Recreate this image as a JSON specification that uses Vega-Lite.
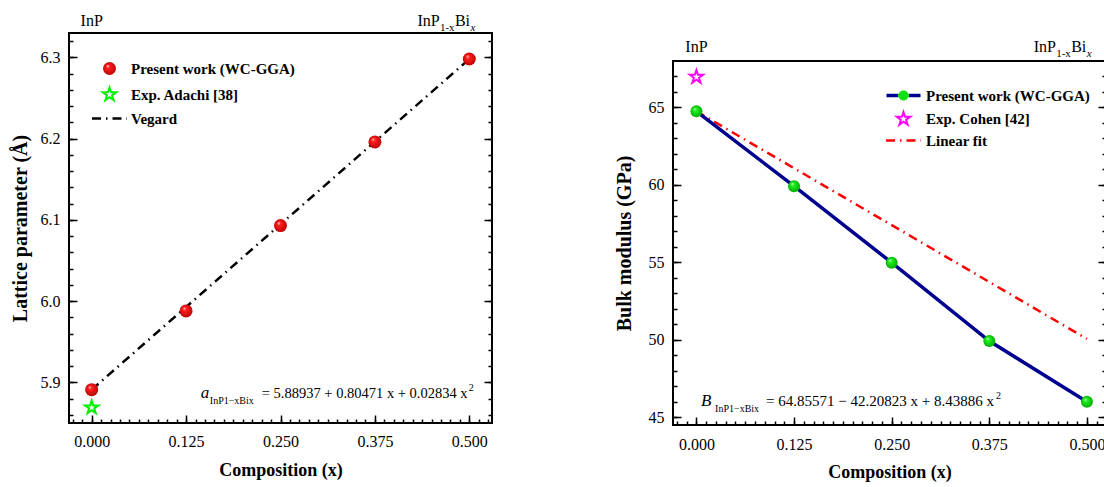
{
  "$schema": "https://vega.github.io/schema/vega-lite/v6.json",
  "background": "white",
  "padding": {"left": 9, "top": 11, "right": 0, "bottom": 0},
  "spacing": 119,
  "resolve": {"scale": {"color": "independent"}},
  "config": {
    "font": "Liberation Serif",
    "view": {"stroke": "black", "strokeWidth": 2},
    "axis": {"zindex": 1, "ticks": true, "tickOpacity": 1, "domain": false, "grid": false, "tickColor": "black", "tickWidth": 1.5, "labelColor": "black", "labelFont": "Liberation Serif", "labelFontSize": 16, "titleFont": "Liberation Serif", "titleFontWeight": "bold", "titleColor": "black"},
    "legend": {"title": null, "padding": 0, "labelFont": "Liberation Serif", "labelFontSize": 15, "labelFontWeight": "bold", "labelColor": "black", "labelLimit": 400, "symbolSize": 196, "symbolStrokeWidth": 0},
    "text": {"font": "Liberation Serif", "color": "black"}
  },
  "datasets": {
    "lat": [{"x": 0, "y": 5.891}, {"x": 0.125, "y": 5.988}, {"x": 0.25, "y": 6.093}, {"x": 0.375, "y": 6.196}, {"x": 0.5, "y": 6.298}],
    "lat_exp": [{"x": 0, "y": 5.869}],
    "vegard": [{"x": 0, "y": 5.891, "series": "Vegard"}, {"x": 0.5, "y": 6.298, "series": "Vegard"}],
    "bulk": [{"x": 0, "y": 64.75}, {"x": 0.125, "y": 59.92}, {"x": 0.25, "y": 54.98}, {"x": 0.375, "y": 49.92}, {"x": 0.5, "y": 46.0}],
    "bulk_exp": [{"x": 0, "y": 66.97}],
    "fit": [{"x": 0, "y": 64.75, "series": "Linear fit"}, {"x": 0.5, "y": 50.06, "series": "Linear fit"}]
  },
  "hconcat": [
    {
      "width": 423,
      "height": 390,
      "resolve": {"axis": {"x": "independent", "y": "independent"}},
      "layer": [
        {
          "data": {"name": "vegard"},
          "mark": {"type": "line", "strokeDash": [9, 5, 1.5, 5], "strokeWidth": 2.5},
          "encoding": {
            "x": {"field": "x", "type": "quantitative", "scale": {"domain": [-0.03, 0.53], "nice": false, "zero": false},
              "axis": {"orient": "bottom", "values": [0, 0.125, 0.25, 0.375, 0.5], "format": ".3f", "tickSize": -8,
                "labelPadding": 18, "labelOverlap": false, "title": "Composition (x)", "titleFontSize": 18, "titlePadding": 12}},
            "y": {"field": "y", "type": "quantitative", "scale": {"domain": [5.85, 6.33], "nice": false, "zero": false},
              "axis": {"orient": "left", "values": [5.9, 6.0, 6.1, 6.2, 6.3], "format": ".1f", "tickSize": -8,
                "labelPadding": 17, "labelOverlap": false, "title": "Lattice parameter (Å)", "titleFontSize": 20, "titlePadding": 10}},
            "color": {"field": "series", "type": "nominal",
              "scale": {"domain": ["Present work (WC-GGA)", "Exp. Adachi [38]", "Vegard"], "range": ["#ff0000", "#00ee00", "#000000"]},
              "legend": {"orient": "none", "legendX": 33, "legendY": 28, "labelOffset": 14, "rowPadding": 6,
                "encode": {"symbols": {"update": {
                  "shape": {"signal": "datum.value === 'Vegard' ? 'M-2.5,0L2.5,0' : datum.value === 'Exp. Adachi [38]' ? 'M0,-1L0.2245,-0.309L0.951,-0.309L0.363,0.118L0.588,0.809L0,0.382L-0.588,0.809L-0.363,0.118L-0.951,-0.309L-0.2245,-0.309Z' : 'circle'"},
                  "size": {"signal": "datum.value === 'Present work (WC-GGA)' ? 169 : 196"},
                  "fill": {"signal": "datum.value === 'Vegard' ? 'transparent' : datum.value === 'Exp. Adachi [38]' ? 'white' : {gradient: 'radial', x1: 0.35, y1: 0.3, r1: 0, x2: 0.5, y2: 0.5, r2: 0.55, stops: [{offset: 0, color: '#ffe0e0'}, {offset: 0.25, color: '#ff2020'}, {offset: 1, color: '#b80000'}]}"},
                  "stroke": {"signal": "datum.value === 'Vegard' ? 'black' : datum.value === 'Exp. Adachi [38]' ? '#00ee00' : 'transparent'"},
                  "strokeWidth": {"signal": "datum.value === 'Vegard' ? 2.5 : datum.value === 'Exp. Adachi [38]' ? 2 : 0"},
                  "strokeDash": {"signal": "datum.value === 'Vegard' ? [9,5,1.5,5] : [1,0]"},
                  "opacity": {"value": 1}
                }}}}}
          }
        },
        {
          "data": {"name": "lat"},
          "mark": {"type": "point", "filled": true, "size": 169, "opacity": 1, "shape": "circle",
            "color": {"gradient": "radial", "x1": 0.35, "y1": 0.3, "r1": 0, "x2": 0.5, "y2": 0.5, "r2": 0.55, "stops": [{"offset": 0, "color": "#ffe0e0"}, {"offset": 0.25, "color": "#ff2020"}, {"offset": 1, "color": "#b80000"}]}},
          "encoding": {
            "x": {"field": "x", "type": "quantitative",
              "axis": {"orient": "bottom", "values": [-0.025,-0.0125,0,0.0125,0.025,0.0375,0.05,0.0625,0.075,0.0875,0.1,0.1125,0.125,0.1375,0.15,0.1625,0.175,0.1875,0.2,0.2125,0.225,0.2375,0.25,0.2625,0.275,0.2875,0.3,0.3125,0.325,0.3375,0.35,0.3625,0.375,0.3875,0.4,0.4125,0.425,0.4375,0.45,0.4625,0.475,0.4875,0.5,0.5125,0.525],
                "labels": false, "tickSize": -4, "title": null}},
            "y": {"field": "y", "type": "quantitative",
              "axis": {"orient": "left", "values": [5.86,5.88,5.9,5.92,5.94,5.96,5.98,6.0,6.02,6.04,6.06,6.08,6.1,6.12,6.14,6.16,6.18,6.2,6.22,6.24,6.26,6.28,6.3,6.32],
                "labels": false, "tickSize": -4, "title": null}}
          }
        },
        {
          "data": {"name": "lat_exp"},
          "mark": {"type": "point", "filled": false, "size": 196, "opacity": 1, "fill": "white", "stroke": "#00ee00", "strokeWidth": 2,
            "shape": "M0,-1L0.2245,-0.309L0.951,-0.309L0.363,0.118L0.588,0.809L0,0.382L-0.588,0.809L-0.363,0.118L-0.951,-0.309L-0.2245,-0.309Z"},
          "encoding": {
            "x": {"field": "x", "type": "quantitative", "axis": null},
            "y": {"field": "y", "type": "quantitative",
              "axis": {"orient": "right", "values": [5.9, 6.0, 6.1, 6.2, 6.3], "labels": false, "tickSize": -8, "title": null}}
          }
        },
        {
          "data": {"values": [{}]},
          "mark": {"type": "text", "text": "InP", "fontSize": 16, "align": "center", "baseline": "alphabetic"},
          "encoding": {"x": {"datum": 0, "type": "quantitative", "axis": null},
            "y": {"datum": 6.339, "type": "quantitative",
              "axis": {"orient": "right", "values": [5.86,5.88,5.9,5.92,5.94,5.96,5.98,6.0,6.02,6.04,6.06,6.08,6.1,6.12,6.14,6.16,6.18,6.2,6.22,6.24,6.26,6.28,6.3,6.32],
                "labels": false, "tickSize": -4, "title": null}}}
        },
        {
          "data": {"values": [{}]},
          "mark": {"type": "text", "text": "InP", "fontSize": 16, "align": "left", "baseline": "alphabetic"},
          "encoding": {"x": {"datum": 0.4313, "type": "quantitative", "axis": null}, "y": {"datum": 6.339, "type": "quantitative", "axis": null}}
        },
        {
          "data": {"values": [{}]},
          "mark": {"type": "text", "text": "1-x", "fontSize": 11, "align": "left", "baseline": "alphabetic", "dx": 22.5, "dy": 5},
          "encoding": {"x": {"datum": 0.4313, "type": "quantitative", "axis": null}, "y": {"datum": 6.339, "type": "quantitative", "axis": null}}
        },
        {
          "data": {"values": [{}]},
          "mark": {"type": "text", "text": "Bi", "fontSize": 16, "align": "left", "baseline": "alphabetic", "dx": 37.5},
          "encoding": {"x": {"datum": 0.4313, "type": "quantitative", "axis": null}, "y": {"datum": 6.339, "type": "quantitative", "axis": null}}
        },
        {
          "data": {"values": [{}]},
          "mark": {"type": "text", "text": "x", "fontSize": 11, "fontStyle": "italic", "align": "left", "baseline": "alphabetic", "dx": 53, "dy": 5},
          "encoding": {"x": {"datum": 0.4313, "type": "quantitative", "axis": null}, "y": {"datum": 6.339, "type": "quantitative", "axis": null}}
        },
        {
          "data": {"values": [{}]},
          "mark": {"type": "text", "text": "a", "fontSize": 17, "fontStyle": "italic", "align": "left", "baseline": "alphabetic"},
          "encoding": {"x": {"datum": 0.1445, "type": "quantitative", "axis": null}, "y": {"datum": 5.8809, "type": "quantitative", "axis": null}}
        },
        {
          "data": {"values": [{}]},
          "mark": {"type": "text", "text": "InP1−xBix", "fontSize": 10, "align": "left", "baseline": "alphabetic", "dx": 9, "dy": 6},
          "encoding": {"x": {"datum": 0.1445, "type": "quantitative", "axis": null}, "y": {"datum": 5.8809, "type": "quantitative", "axis": null}}
        },
        {
          "data": {"values": [{}]},
          "mark": {"type": "text", "text": "= 5.88937 + 0.80471 x + 0.02834 x", "fontSize": 14.5, "align": "left", "baseline": "alphabetic", "dx": 61},
          "encoding": {"x": {"datum": 0.1445, "type": "quantitative", "axis": null}, "y": {"datum": 5.8809, "type": "quantitative", "axis": null}}
        },
        {
          "data": {"values": [{}]},
          "mark": {"type": "text", "text": "2", "fontSize": 10, "align": "left", "baseline": "alphabetic", "dx": 268, "dy": -7},
          "encoding": {"x": {"datum": 0.1445, "type": "quantitative", "axis": null}, "y": {"datum": 5.8809, "type": "quantitative", "axis": null}}
        }
      ]
    },
    {
      "spacing": 0,
      "resolve": {"scale": {"color": "independent"}, "legend": {"color": "independent"}},
      "vconcat": [
        {
          "width": 433,
          "height": 5,
          "view": {"stroke": null, "fill": null},
          "data": {"values": []},
          "mark": {"type": "point", "opacity": 0},
          "encoding": {}
        },
        {
          "width": 433,
          "height": 364,
          "resolve": {"axis": {"x": "independent", "y": "independent"}},
          "layer": [
            {
              "data": {"name": "fit"},
              "mark": {"type": "line", "strokeDash": [9, 5, 1.5, 5], "strokeWidth": 2.5},
              "encoding": {
                "x": {"field": "x", "type": "quantitative", "scale": {"domain": [-0.03, 0.5244], "nice": false, "zero": false},
                  "axis": {"orient": "bottom", "values": [0, 0.125, 0.25, 0.375, 0.5], "format": ".3f", "tickSize": -8,
                    "labelPadding": 19, "labelOverlap": false, "title": "Composition (x)", "titleFontSize": 18, "titlePadding": 11}},
                "y": {"field": "y", "type": "quantitative", "scale": {"domain": [44.5, 68], "nice": false, "zero": false},
                  "axis": {"orient": "left", "values": [45, 50, 55, 60, 65], "format": "d", "tickSize": -8,
                    "labelPadding": 17, "labelOverlap": false, "title": "Bulk modulus (GPa)", "titleFontSize": 20, "titlePadding": 14}},
                "color": {"field": "series", "type": "nominal",
                  "scale": {"domain": ["Present work (WC-GGA)", "Exp. Cohen [42]", "Linear fit"], "range": ["#000090", "#ff00ff", "#ff0000"]},
                  "legend": {"orient": "none", "legendX": 223, "legendY": 27, "labelOffset": 15, "rowPadding": 3.5,
                    "encode": {"symbols": {"update": {
                      "shape": {"signal": "datum.value === 'Linear fit' ? 'M-2.5,0L2.5,0' : datum.value === 'Exp. Cohen [42]' ? 'M0,-1L0.2245,-0.309L0.951,-0.309L0.363,0.118L0.588,0.809L0,0.382L-0.588,0.809L-0.363,0.118L-0.951,-0.309L-0.2245,-0.309Z' : 'M-2.43,-0.243L2.43,-0.243L2.43,0.243L-2.43,0.243Z M0.714,0 A0.714,0.714 0 1 1 -0.714,0 A0.714,0.714 0 1 1 0.714,0 Z'"},
                      "size": {"value": 196},
                      "fill": {"signal": "datum.value === 'Linear fit' ? 'transparent' : datum.value === 'Exp. Cohen [42]' ? 'white' : {gradient: 'linear', x1: 0, y1: 0, x2: 1, y2: 0, stops: [{offset: 0, color: '#000090'}, {offset: 0.35, color: '#000090'}, {offset: 0.353, color: '#10e010'}, {offset: 0.647, color: '#10e010'}, {offset: 0.65, color: '#000090'}, {offset: 1, color: '#000090'}]}"},
                      "stroke": {"signal": "datum.value === 'Linear fit' ? '#ff0000' : datum.value === 'Exp. Cohen [42]' ? '#ff00ff' : 'transparent'"},
                      "strokeWidth": {"signal": "datum.value === 'Linear fit' ? 2.5 : datum.value === 'Exp. Cohen [42]' ? 2 : 0"},
                      "strokeDash": {"signal": "datum.value === 'Linear fit' ? [9,5,1.5,5] : [1,0]"},
                      "opacity": {"value": 1}
                    }}}}}
              }
            },
            {
              "data": {"name": "bulk"},
              "mark": {"type": "line", "color": "#000090", "strokeWidth": 3.5},
              "encoding": {
                "x": {"field": "x", "type": "quantitative",
                  "axis": {"orient": "bottom", "values": [-0.025,-0.0125,0,0.0125,0.025,0.0375,0.05,0.0625,0.075,0.0875,0.1,0.1125,0.125,0.1375,0.15,0.1625,0.175,0.1875,0.2,0.2125,0.225,0.2375,0.25,0.2625,0.275,0.2875,0.3,0.3125,0.325,0.3375,0.35,0.3625,0.375,0.3875,0.4,0.4125,0.425,0.4375,0.45,0.4625,0.475,0.4875,0.5,0.5125],
                    "labels": false, "tickSize": -4, "title": null}},
                "y": {"field": "y", "type": "quantitative",
                  "axis": {"orient": "left", "values": [45,46,47,48,49,50,51,52,53,54,55,56,57,58,59,60,61,62,63,64,65,66,67],
                    "labels": false, "tickSize": -4, "title": null}}
              }
            },
            {
              "data": {"name": "bulk"},
              "mark": {"type": "point", "filled": true, "size": 144, "opacity": 1, "shape": "circle",
                "color": {"gradient": "radial", "x1": 0.35, "y1": 0.3, "r1": 0, "x2": 0.5, "y2": 0.5, "r2": 0.55, "stops": [{"offset": 0, "color": "#e0ffe0"}, {"offset": 0.25, "color": "#20f020"}, {"offset": 1, "color": "#00a800"}]}},
              "encoding": {
                "x": {"field": "x", "type": "quantitative", "axis": null},
                "y": {"field": "y", "type": "quantitative",
                  "axis": {"orient": "right", "values": [45, 50, 55, 60, 65], "labels": false, "tickSize": -8, "title": null}}
              }
            },
            {
              "data": {"name": "bulk_exp"},
              "mark": {"type": "point", "filled": false, "size": 196, "opacity": 1, "fill": "white", "stroke": "#ff00ff", "strokeWidth": 2,
                "shape": "M0,-1L0.2245,-0.309L0.951,-0.309L0.363,0.118L0.588,0.809L0,0.382L-0.588,0.809L-0.363,0.118L-0.951,-0.309L-0.2245,-0.309Z"},
              "encoding": {
                "x": {"field": "x", "type": "quantitative", "axis": null},
                "y": {"field": "y", "type": "quantitative",
                  "axis": {"orient": "right", "values": [45,46,47,48,49,50,51,52,53,54,55,56,57,58,59,60,61,62,63,64,65,66,67],
                    "labels": false, "tickSize": -4, "title": null}}
              }
            },
            {
              "data": {"values": [{}]},
              "mark": {"type": "text", "text": "InP", "fontSize": 16, "align": "center", "baseline": "alphabetic"},
              "encoding": {"x": {"datum": 0, "type": "quantitative", "axis": null}, "y": {"datum": 68.57, "type": "quantitative", "axis": null}}
            },
            {
              "data": {"values": [{}]},
              "mark": {"type": "text", "text": "InP", "fontSize": 16, "align": "left", "baseline": "alphabetic"},
              "encoding": {"x": {"datum": 0.4318, "type": "quantitative", "axis": null}, "y": {"datum": 68.57, "type": "quantitative", "axis": null}}
            },
            {
              "data": {"values": [{}]},
              "mark": {"type": "text", "text": "1-x", "fontSize": 11, "align": "left", "baseline": "alphabetic", "dx": 22.5, "dy": 5},
              "encoding": {"x": {"datum": 0.4318, "type": "quantitative", "axis": null}, "y": {"datum": 68.57, "type": "quantitative", "axis": null}}
            },
            {
              "data": {"values": [{}]},
              "mark": {"type": "text", "text": "Bi", "fontSize": 16, "align": "left", "baseline": "alphabetic", "dx": 37.5},
              "encoding": {"x": {"datum": 0.4318, "type": "quantitative", "axis": null}, "y": {"datum": 68.57, "type": "quantitative", "axis": null}}
            },
            {
              "data": {"values": [{}]},
              "mark": {"type": "text", "text": "x", "fontSize": 11, "fontStyle": "italic", "align": "left", "baseline": "alphabetic", "dx": 53, "dy": 5},
              "encoding": {"x": {"datum": 0.4318, "type": "quantitative", "axis": null}, "y": {"datum": 68.57, "type": "quantitative", "axis": null}}
            },
            {
              "data": {"values": [{}]},
              "mark": {"type": "text", "text": "B", "fontSize": 17, "fontStyle": "italic", "align": "left", "baseline": "alphabetic"},
              "encoding": {"x": {"datum": 0.006, "type": "quantitative", "axis": null}, "y": {"datum": 45.75, "type": "quantitative", "axis": null}}
            },
            {
              "data": {"values": [{}]},
              "mark": {"type": "text", "text": "InP1−xBix", "fontSize": 10, "align": "left", "baseline": "alphabetic", "dx": 14, "dy": 6},
              "encoding": {"x": {"datum": 0.006, "type": "quantitative", "axis": null}, "y": {"datum": 45.75, "type": "quantitative", "axis": null}}
            },
            {
              "data": {"values": [{}]},
              "mark": {"type": "text", "text": "= 64.85571 − 42.20823 x + 8.43886 x", "fontSize": 15, "align": "left", "baseline": "alphabetic", "dx": 65},
              "encoding": {"x": {"datum": 0.006, "type": "quantitative", "axis": null}, "y": {"datum": 45.75, "type": "quantitative", "axis": null}}
            },
            {
              "data": {"values": [{}]},
              "mark": {"type": "text", "text": "2", "fontSize": 10, "align": "left", "baseline": "alphabetic", "dx": 295, "dy": -7},
              "encoding": {"x": {"datum": 0.006, "type": "quantitative", "axis": null}, "y": {"datum": 45.75, "type": "quantitative", "axis": null}}
            }
          ]
        }
      ]
    }
  ]
}
